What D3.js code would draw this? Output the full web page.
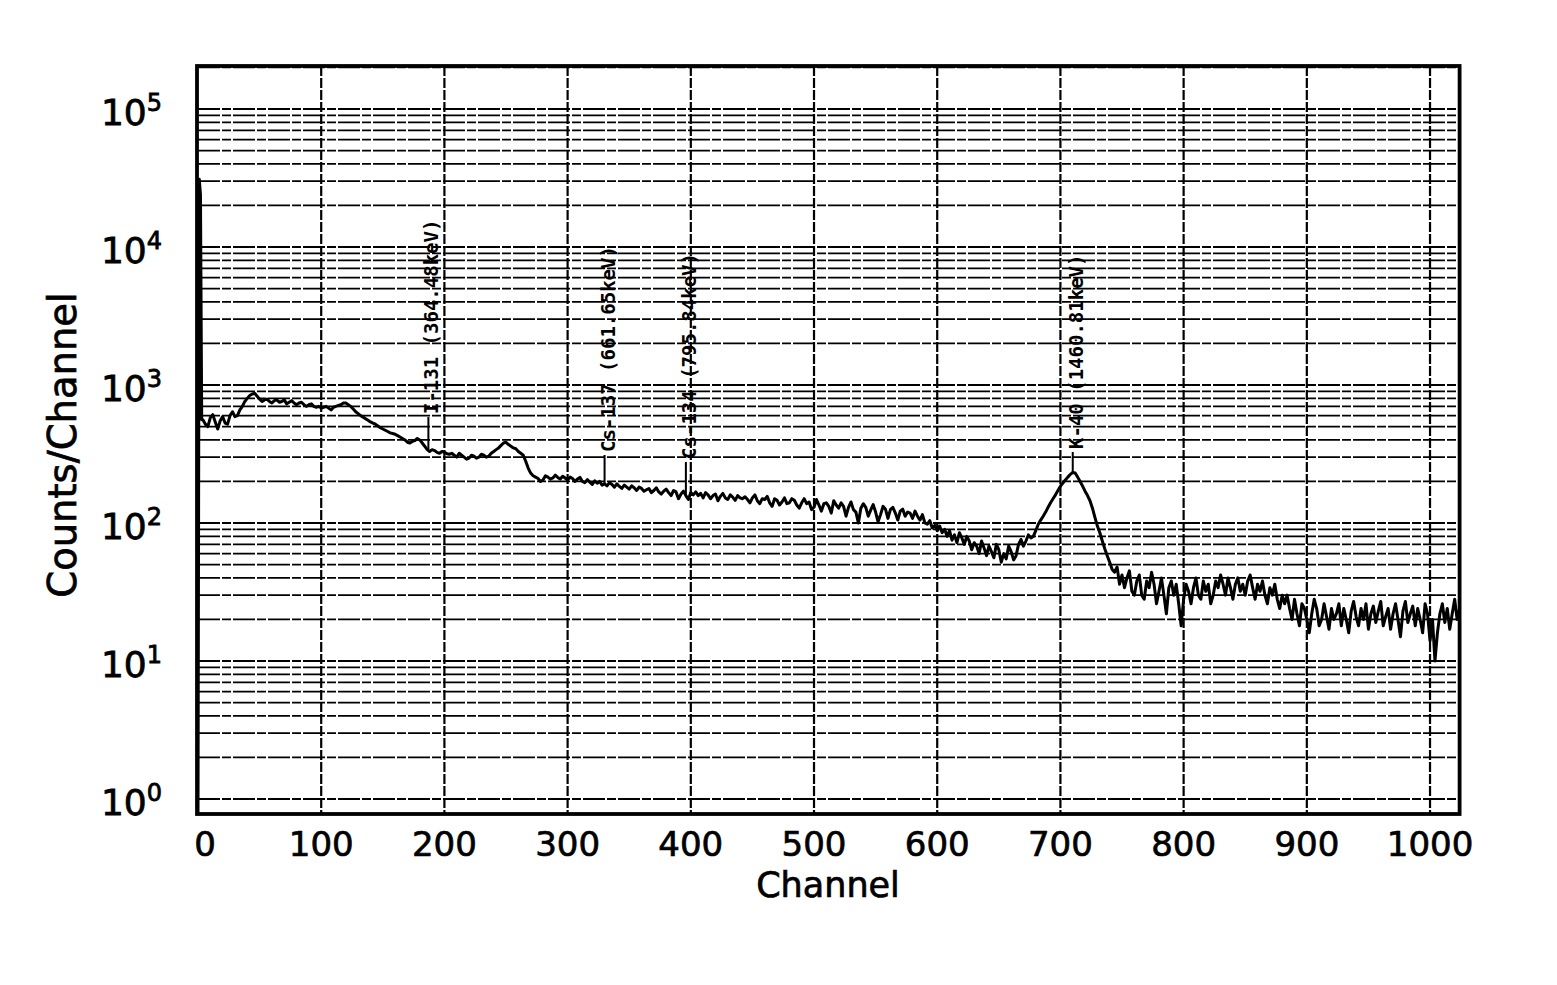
<!DOCTYPE html>
<html>
<head>
<meta charset="utf-8">
<script src="https://cdn.jsdelivr.net/npm/d3@7"></script>
<style>
  html, body { margin: 0; padding: 0; background: #fff; }
  svg { display: block; }
</style>
</head>
<body>
<svg id="chart" width="1557" height="985"></svg>
<script>
// ---------- data ----------
const startChannels = [0, 1, 2, 3];
const startCounts = [0.5, 31000, 24000, 560];
const firstChannel = 4, sampleStep = 2; // counts below are channels 4, 6, 8, ..., 1024
const counts = [
  560, 520, 500, 580, 610, 540, 480, 550, 590, 530, 520, 600, 640, 590, 600, 660, 700, 760, 800, 840,   // 4-42
  860, 870, 830, 790, 760, 780, 790, 760, 740, 770, 780, 750, 760, 780, 730, 750, 770, 740, 720, 740,   // 44-82
  750, 720, 700, 720, 730, 700, 690, 700, 680, 690, 700, 680, 660, 690, 700, 710, 720, 740, 740, 720,   // 84-122
  700, 670, 640, 620, 600, 585, 570, 555, 540, 530, 520, 505, 490, 480, 470, 460, 450, 445, 440, 430,   // 124-162
  420, 410, 400, 385, 380, 390, 395, 410, 400, 380, 360, 340, 330, 340, 335, 325, 320, 330, 325, 318,   // 164-202
  315, 320, 310, 300, 320, 310, 300, 290, 295, 310, 305, 295, 300, 315, 310, 300, 305, 320, 330, 340,   // 204-242
  350, 365, 380, 385, 370, 360, 350, 345, 330, 320, 310, 280, 250, 230, 220, 215, 210, 200, 205, 220,   // 244-282
  215, 208, 212, 222, 214, 208, 218, 212, 205, 215, 210, 200, 208, 214, 200, 196, 206, 198, 190, 202,   // 284-322
  194, 200, 188, 192, 186, 196, 190, 182, 192, 184, 178, 188, 182, 176, 186, 180, 172, 182, 178, 170,   // 324-362
  174, 178, 166, 172, 180, 168, 162, 170, 176, 166, 158, 172, 168, 150, 162, 170, 158, 148, 166, 160,   // 364-402
  168, 158, 164, 152, 166, 160, 150, 158, 162, 145, 156, 164, 152, 148, 160, 154, 146, 158, 152, 150,   // 404-442
  155, 148, 140, 152, 160, 145, 138, 150, 148, 156, 140, 132, 150, 146, 135, 142, 152, 138, 140, 150,   // 444-482
  146, 135, 128, 140, 150, 138, 142, 125, 130, 148, 135, 122, 138, 140, 132, 118, 145, 135, 128, 140,   // 484-522
  132, 112, 130, 142, 125, 120, 100, 128, 138, 130, 112, 124, 136, 120, 102, 115, 132, 126, 108, 125,   // 524-562
  130, 118, 105, 122, 126, 112, 120, 118, 108, 122, 112, 105, 115, 100, 98, 104, 92, 96, 88, 95,        // 564-602
  85, 90, 80, 88, 75, 82, 72, 85, 78, 70, 80, 74, 64, 72, 68, 60, 74, 66, 58, 68,                      // 604-642
  62, 56, 70, 64, 52, 60, 55, 68, 62, 54, 58, 70, 76, 68, 74, 82, 78, 80, 88, 98,                      // 644-682
  105, 112, 120, 130, 140, 150, 160, 172, 185, 195, 205, 215, 225, 232, 230, 215, 200, 185, 170, 158,  // 684-722
  145, 128, 110, 95, 85, 74, 65, 58, 52, 46, 44, 48, 36, 42, 34, 40, 45, 32, 30, 38,                   // 724-762
  42, 30, 28, 38, 34, 44, 36, 26, 32, 40, 30, 22, 34, 38, 30, 36, 26, 18, 28, 36,                      // 764-802
  32, 26, 34, 40, 30, 28, 38, 32, 36, 26, 30, 38, 34, 42, 36, 30, 40, 34, 28, 36,                      // 804-842
  40, 32, 36, 30, 38, 42, 34, 28, 36, 32, 38, 30, 26, 34, 30, 36, 28, 24, 30, 26,                      // 844-882
  30, 24, 20, 28, 22, 18, 26, 24, 20, 16, 22, 28, 24, 18, 20, 26, 21, 17, 24, 20,                      // 884-922
  22, 26, 18, 24, 20, 16, 23, 27, 21, 18, 24, 20, 26, 17, 22, 25, 19, 23, 27, 18,                      // 924-962
  21, 24, 17, 22, 26, 20, 15, 23, 27, 19, 22, 25, 18, 24, 20, 16, 26, 22, 14, 20,                      // 964-1002
  10, 16, 22, 26, 19, 24, 17, 22, 28, 20, 24                                                            // 1004-1024
];
const xTicks = [0, 100, 200, 300, 400, 500, 600, 700, 800, 900, 1000];
const yDecades = [0, 1, 2, 3, 4, 5];
const peakLabels = ["I-131 (364.48keV)", "Cs-137 (661.65keV)", "Cs-134 (795.84keV)", "K-40 (1460.81keV)"];
const peakChannels = [187, 330, 396, 710];
const peakBase = [340, 190, 160, 232];   // counts at marker foot
const peakTop = [586, 311, 277, 327];    // counts at marker top

// ---------- layout ----------
const svg = d3.select("#chart");
const pLeft = 198, pRight = 1459.6, pTop = 66, pBottom = 814;
const decadePx = 138;
const y0px = 799; // pixel for 10^0
const yMin = Math.pow(10, -(pBottom - y0px) / decadePx);
const yMax = Math.pow(10, (y0px - pTop) / decadePx);

const x = d3.scaleLinear().domain([0, 1024]).range([pLeft, pRight]);
const y = d3.scaleLog().domain([yMin, yMax]).range([pBottom, pTop]).clamp(true);

const data = startChannels.map((c, i) => ({ c, v: startCounts[i] }))
  .concat(counts.map((v, i) => ({ c: firstChannel + i * sampleStep, v })));

// ---------- gridlines ----------
const minorVals = [];
yDecades.forEach(d => {
  for (let m = 1; m <= 9; m++) {
    const v = m * Math.pow(10, d);
    if (v >= yMin && v <= yMax) minorVals.push(v);
  }
});
svg.append("g").selectAll("line").data(minorVals).join("line")
  .attr("x1", pLeft).attr("x2", pRight)
  .attr("y1", d => y(d)).attr("y2", d => y(d))
  .attr("stroke", "#000")
  .attr("stroke-width", d => (Math.abs(Math.log10(d) - Math.round(Math.log10(d))) < 1e-9) ? 2 : 1.7)
  .attr("stroke-dasharray", "22,2,9,2");

svg.append("g").selectAll("line").data(xTicks.filter(t => t > 0)).join("line")
  .attr("x1", d => x(d)).attr("x2", d => x(d))
  .attr("y1", pTop).attr("y2", pBottom)
  .attr("stroke", "#000").attr("stroke-width", 2.2)
  .attr("stroke-dasharray", "10,2");

// ---------- spectrum ----------
const line = d3.line().x(d => x(d.c)).y(d => y(d.v));
svg.append("path").datum(data)
  .attr("d", line)
  .attr("fill", "none").attr("stroke", "#000")
  .attr("stroke-width", 3).attr("stroke-linejoin", "round");

// ---------- frame ----------
svg.append("rect")
  .attr("x", pLeft - 1).attr("y", pTop).attr("width", pRight - pLeft + 1).attr("height", pBottom - pTop)
  .attr("fill", "none").attr("stroke", "#000").attr("stroke-width", 3.8);

// ---------- peak annotations ----------
const ann = svg.append("g");
peakLabels.forEach((lab, i) => {
  const px = x(peakChannels[i]);
  ann.append("line")
    .attr("x1", px).attr("x2", px)
    .attr("y1", y(peakBase[i])).attr("y2", y(peakTop[i]))
    .attr("stroke", "#000").attr("stroke-width", 2);
  ann.append("text")
    .attr("transform", `translate(${px + 3},${y(peakTop[i]) - 3}) rotate(-90)`)
    .attr("dominant-baseline", "central")
    .attr("font-family", "DejaVu Sans Mono, monospace")
    .attr("font-size", 19)
    .attr("font-weight", "bold")
    .attr("fill", "#000")
    .text(lab);
});

// ---------- axes text ----------
const axisFont = "DejaVu Sans, Verdana, sans-serif";
svg.append("g").selectAll("text").data(xTicks).join("text")
  .attr("x", d => x(d) + (d === 0 ? 7 : 0))
  .attr("y", 856)
  .attr("text-anchor", "middle")
  .attr("font-family", axisFont).attr("font-size", 34)
  .attr("fill", "#000").attr("stroke", "#000").attr("stroke-width", 0.7)
  .text(d => d);

svg.append("text")
  .attr("x", 828).attr("y", 897)
  .attr("text-anchor", "middle")
  .attr("font-family", axisFont).attr("font-size", 35)
  .attr("fill", "#000").attr("stroke", "#000").attr("stroke-width", 0.7)
  .text("Channel");

const yt = svg.append("g").selectAll("text").data(yDecades).join("text")
  .attr("x", 162)
  .attr("y", d => y(Math.pow(10, d)) + 16)
  .attr("text-anchor", "end")
  .attr("font-family", axisFont).attr("font-size", 36)
  .attr("fill", "#000").attr("stroke", "#000").attr("stroke-width", 0.8);
yt.append("tspan").text("10");
yt.append("tspan").attr("font-size", 24).attr("dy", -14).text(d => d);

svg.append("text")
  .attr("transform", "translate(62,445) rotate(-90)")
  .attr("text-anchor", "middle")
  .attr("dominant-baseline", "central")
  .attr("font-family", axisFont).attr("font-size", 38.5)
  .attr("fill", "#000").attr("stroke", "#000").attr("stroke-width", 0.7)
  .text("Counts/Channel");
</script>
</body>
</html>
